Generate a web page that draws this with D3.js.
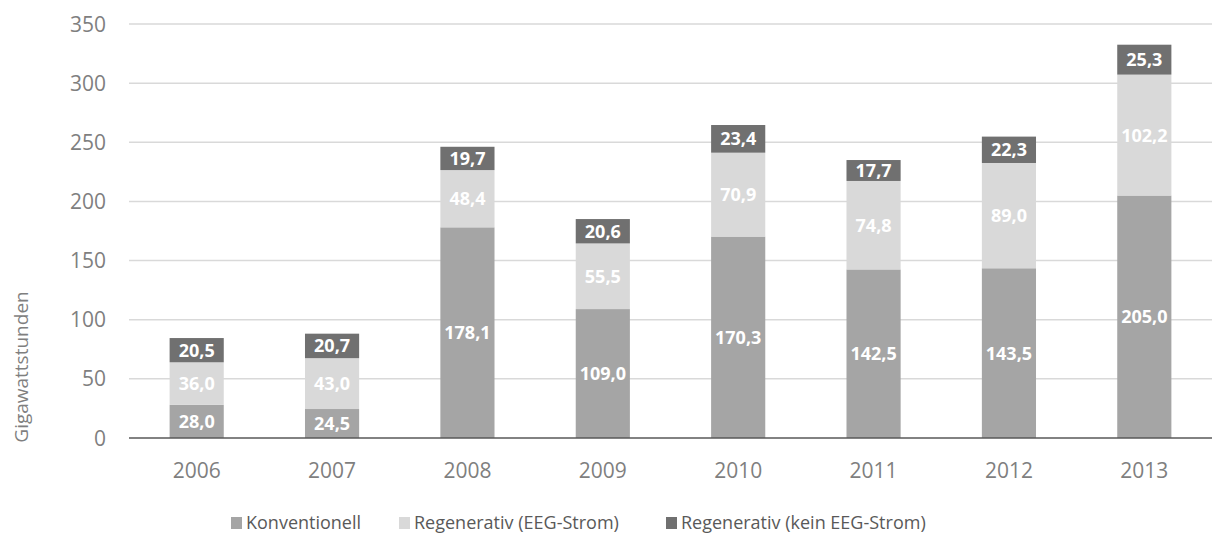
<!DOCTYPE html>
<html>
<head>
<meta charset="utf-8">
<script src="https://cdn.jsdelivr.net/npm/d3@7"></script>
<style>
  body { margin: 0; background: #fff; }
  svg text { font-family: "Open Sans", "Noto Sans", sans-serif; }
</style>
</head>
<body>
<svg id="chart" width="1222" height="536"></svg>
<script>
const years = ["2006", "2007", "2008", "2009", "2010", "2011", "2012", "2013"];
const konventionell = [28.0, 24.5, 178.1, 109.0, 170.3, 142.5, 143.5, 205.0];
const eegStrom = [36.0, 43.0, 48.4, 55.5, 70.9, 74.8, 89.0, 102.2];
const keinEeg = [20.5, 20.7, 19.7, 20.6, 23.4, 17.7, 22.3, 25.3];
const seriesNames = ["Konventionell", "Regenerativ (EEG-Strom)", "Regenerativ (kein EEG-Strom)"];
const yTicks = [0, 50, 100, 150, 200, 250, 300, 350];

const colors = ["#a5a5a5", "#d9d9d9", "#707070"];
const svg = d3.select("#chart");
const margin = { left: 129, right: 10, top: 24, bottom: 98 };
const width = 1222 - margin.left - margin.right;
const height = 536 - margin.top - margin.bottom;

const rows = years.map((y, i) => ({ year: y, k: konventionell[i], e: eegStrom[i], n: keinEeg[i] }));
const stack = d3.stack().keys(["k", "e", "n"])(rows);

const x = d3.scaleBand().domain(years).range([0, width]).paddingInner(0.6).paddingOuter(0.3);
const y = d3.scaleLinear().domain([0, 350]).range([height, 0]);

const g = svg.append("g").attr("transform", `translate(${margin.left},${margin.top})`);

// grid
g.append("g").selectAll("line").data(yTicks.filter(d => d > 0)).join("line")
    .attr("x1", 0).attr("x2", width)
    .attr("y1", d => y(d)).attr("y2", d => y(d))
    .attr("stroke", "#d9d9d9").attr("stroke-width", 1.5);

// y labels
g.append("g").selectAll("text").data(yTicks).join("text")
    .attr("x", -23).attr("y", d => y(d)).attr("dy", "0.36em")
    .attr("text-anchor", "end").attr("fill", "#7f7f7f").attr("font-size", 21)
    .text(d => d);

// bars
const layers = g.append("g").selectAll("g").data(stack).join("g")
    .attr("fill", (d, i) => colors[i]);
layers.selectAll("rect").data(d => d).join("rect")
    .attr("x", d => x(d.data.year))
    .attr("y", d => y(d[1]))
    .attr("width", x.bandwidth())
    .attr("height", d => y(d[0]) - y(d[1]));

// value labels
layers.selectAll("text").data(d => d.map(v => ({ v, key: d.key }))).join("text")
    .attr("x", d => x(d.v.data.year) + x.bandwidth() / 2)
    .attr("y", d => (y(d.v[0]) + y(d.v[1])) / 2)
    .attr("dy", "0.36em").attr("text-anchor", "middle")
    .attr("fill", "#fff").attr("font-weight", "bold").attr("font-size", 18)
    .text(d => d3.format(".1f")(d.v.data[d.key]).replace(".", ","));

// baseline
g.append("line").attr("x1", 0).attr("x2", width).attr("y1", height).attr("y2", height)
    .attr("stroke", "#595959").attr("stroke-width", 1.5);

// x labels
g.append("g").selectAll("text").data(years).join("text")
    .attr("x", d => x(d) + x.bandwidth() / 2).attr("y", height + 40)
    .attr("text-anchor", "middle").attr("fill", "#7f7f7f").attr("font-size", 21)
    .text(d => d);

// y title
svg.append("text")
    .attr("transform", "translate(28,367) rotate(-90)")
    .attr("text-anchor", "middle").attr("fill", "#7f7f7f").attr("font-size", 19)
    .text("Gigawattstunden");

// legend
const legendX = [231, 399, 666];
const legend = svg.append("g").selectAll("g").data(seriesNames).join("g")
    .attr("transform", (d, i) => `translate(${legendX[i]},517)`);
legend.append("rect").attr("width", 11).attr("height", 12).attr("fill", (d, i) => colors[i]);
legend.append("text").attr("x", 15).attr("y", 12)
    .attr("fill", "#595959").attr("font-size", 18).text(d => d);
</script>
</body>
</html>
